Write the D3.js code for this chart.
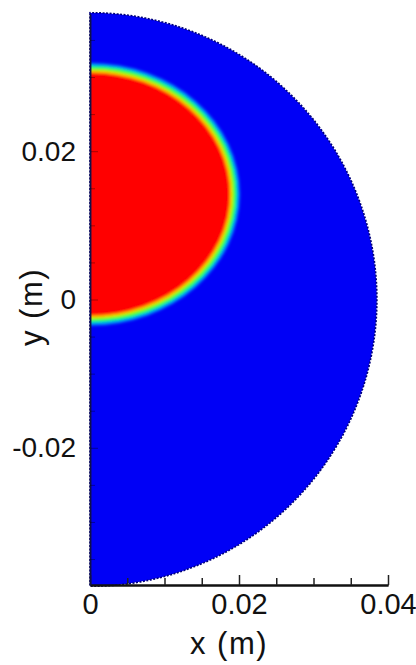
<!DOCTYPE html>
<html>
<head>
<meta charset="utf-8">
<title>Droplet volume fraction</title>
<script src="https://d3js.org/d3.v7.min.js"></script>
<style>
  body { margin: 0; background: #fff; }
  text { font-family: "Liberation Sans", Arial, sans-serif; fill: #111; }
</style>
</head>
<body>
<div id="chart"></div>
<script>
// domain: half disc of radius R centred at the origin
const domainRadius = 0.0385;
// droplet (volume fraction = 1) described by its centre and semi-axes, in metres
const dropCentre = [0, 0.0142];
const dropSemiAxes = [0.0192, 0.0168];
// contour levels across the interface and how far each lies outside the droplet edge (m)
const levelValues = [0.15, 0.4, 0.6, 0.8, 1];
const levelOffsets = [0.0009, 0.0005, 0.0002, -0.0001, -0.0004];
// axes
const xMajorTicks = [0, 0.02, 0.04];
const xMinorTicks = [0.005, 0.01, 0.015, 0.025, 0.03, 0.035];
const yMajorTicks = [-0.02, 0, 0.02];
const yMinorTicks = [-0.035, -0.03, -0.025, -0.015, -0.01, -0.005, 0.005, 0.01, 0.015, 0.025, 0.03, 0.035];

const width = 416, height = 665;
const svg = d3.select("#chart").append("svg")
  .attr("width", width).attr("height", height);

const x = d3.scaleLinear().domain([0, 0.04]).range([90, 388]);
const y = d3.scaleLinear().domain([-domainRadius, domainRadius]).range([585, 14]);

// tecplot style rainbow: blue -> cyan -> green -> yellow -> red
const colour = d3.scaleLinear()
  .domain([0, 0.25, 0.5, 0.75, 1])
  .range(["#0000f6", "#00ffff", "#00ff00", "#ffff00", "#ff0000"]);

const tickText = d => d === 0 ? "0" : d3.format(".2f")(d).replace("\u2212", "-");

const defs = svg.append("defs");
const discPath = d3.path();
discPath.moveTo(x(0), y(domainRadius));
discPath.arc(x(0), y(0), x(domainRadius) - x(0), -Math.PI / 2, Math.PI / 2);
discPath.closePath();

defs.append("clipPath").attr("id", "disc")
  .append("path").attr("d", discPath.toString());
defs.append("filter").attr("id", "soft")
  .attr("x", "-10%").attr("y", "-10%").attr("width", "120%").attr("height", "120%")
  .append("feGaussianBlur").attr("stdDeviation", 1.6);

const field = svg.append("g").attr("clip-path", "url(#disc)");
field.append("path").attr("d", discPath.toString()).attr("fill", colour(0));

const band = field.append("g").attr("filter", "url(#soft)");
band.selectAll("ellipse")
  .data(levelValues)
  .join("ellipse")
  .attr("cx", x(dropCentre[0]))
  .attr("cy", y(dropCentre[1]))
  .attr("rx", (d, i) => x(dropSemiAxes[0] + levelOffsets[i]) - x(0))
  .attr("ry", (d, i) => y(0) - y(dropSemiAxes[1] + levelOffsets[i]))
  .attr("fill", d => colour(d));

// ragged dark edge of the mesh
svg.append("path").attr("d", discPath.toString())
  .attr("fill", "none").attr("stroke", "#00007a").attr("stroke-width", 1.6)
  .attr("stroke-dasharray", "2,1.5");

// x axis
const xAxis = svg.append("g").attr("transform", `translate(0,${y(-domainRadius)})`);
xAxis.call(d3.axisBottom(x).tickValues(xMajorTicks).tickSizeInner(-10).tickSizeOuter(0)
  .tickPadding(8).tickFormat(tickText));
xAxis.append("g").call(d3.axisBottom(x).tickValues(xMinorTicks).tickSizeInner(-7)
  .tickSizeOuter(0).tickFormat(""));
xAxis.selectAll(".domain").attr("stroke", "#111").attr("stroke-width", 2);
xAxis.selectAll(".tick line").attr("stroke", "#222").attr("stroke-width", 1.5);
xAxis.selectAll(".tick text").attr("font-size", 29).attr("fill", "#111")
  .attr("font-family", "Liberation Sans, Arial, sans-serif");

// y axis
const yAxis = svg.append("g").attr("transform", `translate(${x(0)},0)`);
yAxis.call(d3.axisLeft(y).tickValues(yMajorTicks).tickSizeInner(-8).tickSizeOuter(0)
  .tickPadding(14).tickFormat(tickText));
yAxis.append("g").call(d3.axisLeft(y).tickValues(yMinorTicks).tickSizeInner(-5)
  .tickSizeOuter(0).tickFormat(""));
yAxis.selectAll(".domain").attr("stroke", "#10104a").attr("stroke-width", 1.5);
yAxis.selectAll(".tick line").attr("stroke", "#000").attr("stroke-opacity", 0.35);
yAxis.selectAll(".tick text").attr("font-size", 28).attr("fill", "#111")
  .attr("font-family", "Liberation Sans, Arial, sans-serif");

// axis titles
svg.append("text")
  .attr("x", 229).attr("y", 654)
  .attr("text-anchor", "middle").attr("font-size", 31)
  .attr("letter-spacing", 1.5)
  .text("x (m)");
svg.append("text")
  .attr("transform", `translate(42,307) rotate(-90)`)
  .attr("text-anchor", "middle").attr("font-size", 31)
  .attr("letter-spacing", 1.5)
  .text("y (m)");
</script>
</body>
</html>
